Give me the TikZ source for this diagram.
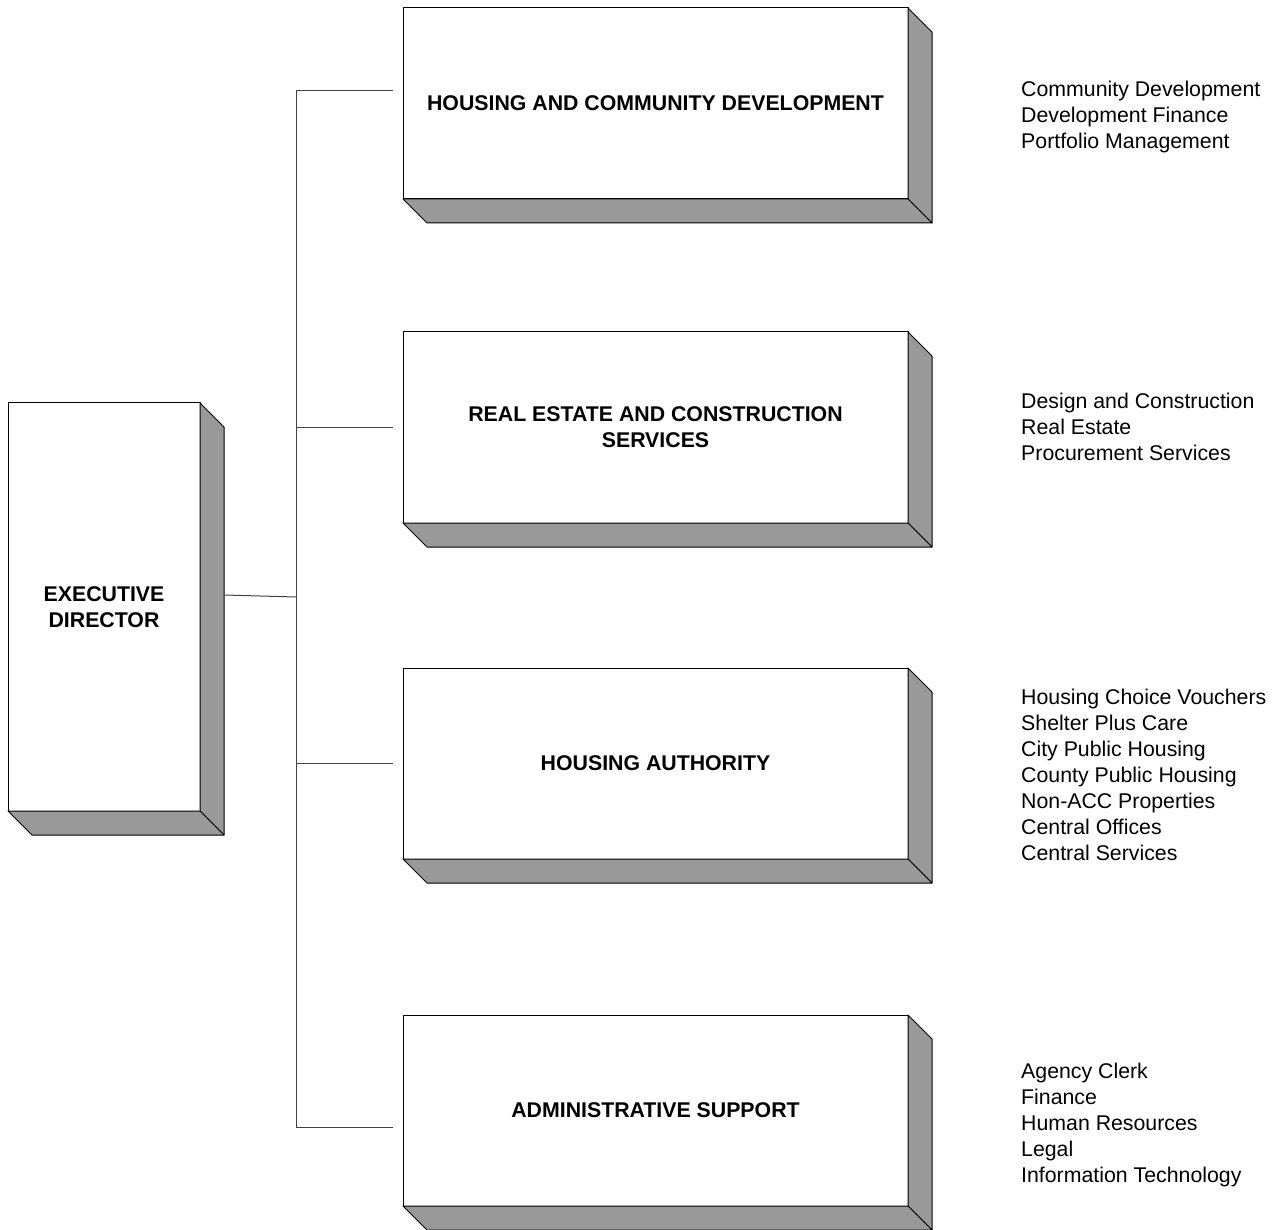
\documentclass[tikz,border=0pt]{standalone}
\usepackage{fontspec}
\setmainfont{Liberation Sans}
\begin{document}
\begin{tikzpicture}[x=1pt,y=-1pt,
  every node/.style={font=\fontsize{21.3}{26}\selectfont},
  frontbox/.style={draw=black, fill=white, line width=1pt, inner sep=0pt, outer sep=0pt,
    align=center, font=\fontsize{21.3}{26}\selectfont\bfseries},
  wide/.style={minimum width=505pt, minimum height=191pt},
  tall/.style={minimum width=192pt, minimum height=408pt},
  sidefill/.style={fill=black!40, draw=black, line width=1pt, line join=round},
  conn/.style={draw=black!75, line width=1pt},
  listtext/.style={anchor=north west, inner sep=0pt, align=left}]
\useasboundingbox (0,0) rectangle (1275,1230);

% boxes (front faces)
\node[frontbox, tall] (ed)   at (104,607)   {EXECUTIVE\\DIRECTOR};
\node[frontbox, wide] (hcd)  at (655.5,103.5)  {HOUSING AND COMMUNITY DEVELOPMENT};
\node[frontbox, wide] (recs) at (655.5,427.5)  {REAL ESTATE AND CONSTRUCTION\\SERVICES};
\node[frontbox, wide] (ha)   at (655.5,763.5)  {HOUSING AUTHORITY};
\node[frontbox, wide] (as)   at (655.5,1110.5) {ADMINISTRATIVE SUPPORT};

% extrusions
\foreach \n in {ed,hcd,recs,ha,as}{
  \path[sidefill] (\n.north east) -- ([shift={(24,24)}]\n.north east)
    -- ([shift={(24,24)}]\n.south east) -- (\n.south east) -- cycle;
  \path[sidefill] (\n.south west) -- ([shift={(24,24)}]\n.south west)
    -- ([shift={(24,24)}]\n.south east) -- (\n.south east) -- cycle;
}

% connector coordinates
\coordinate (edout) at (224,595);
\coordinate (j0) at (296,597);
\coordinate (t1) at (296,91);
\coordinate (t2) at (296,428);
\coordinate (t3) at (296,763);
\coordinate (t4) at (296,1127);
\coordinate (e1) at (393,91);
\coordinate (e2) at (393,428);
\coordinate (e3) at (393,763);
\coordinate (e4) at (393,1127);

\draw[conn] (edout) -- (j0);
\draw[conn] (t1) -- (t4);
\draw[conn] (t1) -- (e1);
\draw[conn] (t2) -- (e2);
\draw[conn] (t3) -- (e3);
\draw[conn] (t4) -- (e4);

% lists
\node[listtext] (l1) at (1021,80.5) {Community Development\\Development Finance\\Portfolio Management};
\node[listtext] (l2) at (1021,392.5) {Design and Construction\\Real Estate\\Procurement Services};
\node[listtext] (l3) at (1021,688.5) {Housing Choice Vouchers\\Shelter Plus Care\\City Public Housing\\County Public Housing\\Non-ACC Properties\\Central Offices\\Central Services};
\node[listtext] (l4) at (1021,1062.5) {Agency Clerk\\Finance\\Human Resources\\Legal\\Information Technology};
\end{tikzpicture}
\end{document}
